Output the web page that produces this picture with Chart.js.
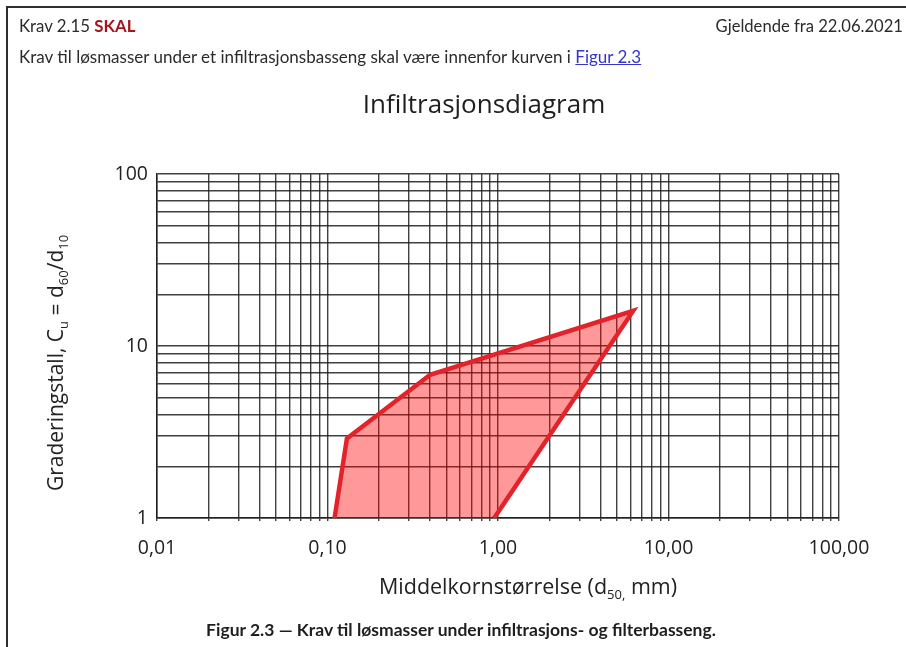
<!DOCTYPE html>
<html>
<head>
<meta charset="utf-8">
<title>Infiltrasjonsdiagram</title>
<script src="https://cdn.jsdelivr.net/npm/chart.js@4.4.0/dist/chart.umd.min.js"></script>
<style>
  html, body { margin: 0; padding: 0; background: #fff; }
  body { width: 906px; height: 647px; position: relative; overflow: hidden; }
  #frame { position: absolute; left: 6px; top: 6px; width: 920px; height: 700px;
           border-left: 2px solid #2e2e2e; border-top: 2px solid #2e2e2e; }
  #chart { position: absolute; left: 0; top: 0; }
  .txt { position: absolute; white-space: nowrap; font-family: Lato, "Open Sans", sans-serif; color: #2b2b2b; }
  #req { left: 19px; top: 16px; font-size: 16.8px; line-height: 20px; }
  #req b { color: #a3151f; }
  #valid { right: 3px; top: 16px; font-size: 16.6px; line-height: 20px; }
  #desc { left: 19px; top: 47px; font-size: 17px; line-height: 20px; }
  #desc a { color: #3434c8; text-decoration: underline; }
  #heading { left: 0; width: 968px; text-align: center; top: 87px; font-family: "Open Sans", sans-serif;
             font-size: 26px; line-height: 32px; color: #1e1e1e; }
  #caption { left: 0; width: 922px; text-align: center; top: 620px; font-size: 17.5px; line-height: 20px;
             font-weight: bold; color: #1e1e1e; }
</style>
</head>
<body>
<div id="frame"></div>
<canvas id="chart" width="906" height="647"></canvas>
<div class="txt" id="req">Krav 2.15 <b>SKAL</b></div>
<div class="txt" id="valid">Gjeldende fra 22.06.2021</div>
<div class="txt" id="desc">Krav til løsmasser under et infiltrasjonsbasseng skal være innenfor kurven i <a href="#">Figur 2.3</a></div>
<div class="txt" id="heading">Infiltrasjonsdiagram</div>
<div class="txt" id="caption">Figur 2.3 — Krav til løsmasser under infiltrasjons- og filterbasseng.</div>

<script>
// Boundary of the accepted zone (d50 in mm, Cu), traced from the lower right corner
// over the top point and down the left side.
const boundaryD50 = [0.95, 6.2, 0.4, 0.13, 0.11];
const boundaryCu  = [1, 16, 6.8, 2.9, 1];

// Labelled decades on each axis
const xDecades = [0.01, 0.1, 1, 10, 100];
const xTickLabels = ['0,01', '0,10', '1,00', '10,00', '100,00'];
const yDecades = [1, 10, 100];
const yTickLabels = ['1', '10', '100'];

// Full logarithmic grid: 1..9 within every decade, plus the closing decade
function logGrid(decades) {
  const out = [];
  for (let i = 0; i < decades.length - 1; i++) {
    for (let k = 1; k <= 9; k++) out.push(Number((decades[i] * k).toPrecision(3)));
  }
  out.push(decades[decades.length - 1]);
  return out;
}
const xGrid = logGrid(xDecades);
const yGrid = logGrid(yDecades);

function labelFor(value, decades, labels) {
  const i = decades.findIndex(d => Math.abs(d - value) / d < 1e-6);
  return i >= 0 ? labels[i] : '';
}

const TICK_FONT = { family: '"Open Sans", sans-serif', size: 19.5 };
const MAIN_FONT = '21.5px "Open Sans", sans-serif';
const SUB_FONT = '13px "Open Sans", sans-serif';

const xTitleParts = [
  { t: 'Middelkornstørrelse (d' }, { t: '50,', sub: true }, { t: ' mm)' }
];
const yTitleParts = [
  { t: 'Graderingstall, C' }, { t: 'u', sub: true }, { t: ' = d' }, { t: '60', sub: true },
  { t: '/d' }, { t: '10', sub: true }
];

function drawRich(ctx, parts, cx, cy, angle, font, subFont) {
  ctx.save();
  ctx.translate(cx, cy);
  ctx.rotate(angle);
  ctx.textBaseline = 'middle';
  ctx.textAlign = 'left';
  ctx.fillStyle = '#222';
  let total = 0;
  parts.forEach(p => {
    ctx.font = p.sub ? subFont : font;
    p.w = ctx.measureText(p.t).width;
    total += p.w;
  });
  let x = -total / 2;
  parts.forEach(p => {
    ctx.font = p.sub ? subFont : font;
    ctx.fillText(p.t, x, p.sub ? 7 : 0);
    x += p.w;
  });
  ctx.restore();
}

// Axis titles with subscripts
const axisTitles = {
  id: 'axisTitles',
  afterDraw(chart) {
    const a = chart.chartArea;
    drawRich(chart.ctx, xTitleParts, (a.left + a.right) / 2 + 30, a.bottom + 70, 0, MAIN_FONT, SUB_FONT);
    drawRich(chart.ctx, yTitleParts, 57, (a.top + a.bottom) / 2 + 17, -Math.PI / 2,
             '21px "Open Sans", sans-serif', SUB_FONT);
  }
};

const gridStyle = { color: 'rgba(30,30,30,0.85)', lineWidth: 1.4 };

new Chart(document.getElementById('chart'), {
  type: 'scatter',
  data: {
    datasets: [{
      data: boundaryD50.map((d, i) => ({ x: d, y: boundaryCu[i] })),
      showLine: true,
      fill: 'shape',
      backgroundColor: 'rgba(255,0,0,0.4)',
      borderColor: '#e3222a',
      borderWidth: 4.5,
      borderJoinStyle: 'miter',
      pointRadius: 0,
      pointHoverRadius: 0,
      tension: 0
    }]
  },
  options: {
    responsive: false,
    animation: false,
    events: [],
    layout: { padding: { left: 97, right: 67, top: 174, bottom: 79 } },
    plugins: { legend: { display: false }, tooltip: { enabled: false } },
    scales: {
      x: {
        type: 'logarithmic',
        min: 0.01, max: 100,
        afterBuildTicks: s => { s.ticks = xGrid.map(v => ({ value: v })); },
        afterFit: s => { s.height = 50; },
        grid: { ...gridStyle, drawTicks: true, tickLength: 3 },
        border: { color: '#222', width: 1.5 },
        ticks: {
          autoSkip: false, maxRotation: 0, minRotation: 0, padding: 16,
          color: '#222', font: TICK_FONT,
          callback: v => labelFor(v, xDecades, xTickLabels)
        }
      },
      y: {
        type: 'logarithmic',
        min: 1, max: 100,
        afterBuildTicks: s => { s.ticks = yGrid.map(v => ({ value: v })); },
        afterFit: s => { s.width = 60; },
        grid: { ...gridStyle, drawTicks: false },
        border: { color: '#222', width: 1.5 },
        ticks: {
          autoSkip: false, padding: 9,
          color: '#222', font: TICK_FONT,
          callback: v => labelFor(v, yDecades, yTickLabels)
        }
      }
    }
  },
  plugins: [axisTitles]
});
</script>
</body>
</html>
